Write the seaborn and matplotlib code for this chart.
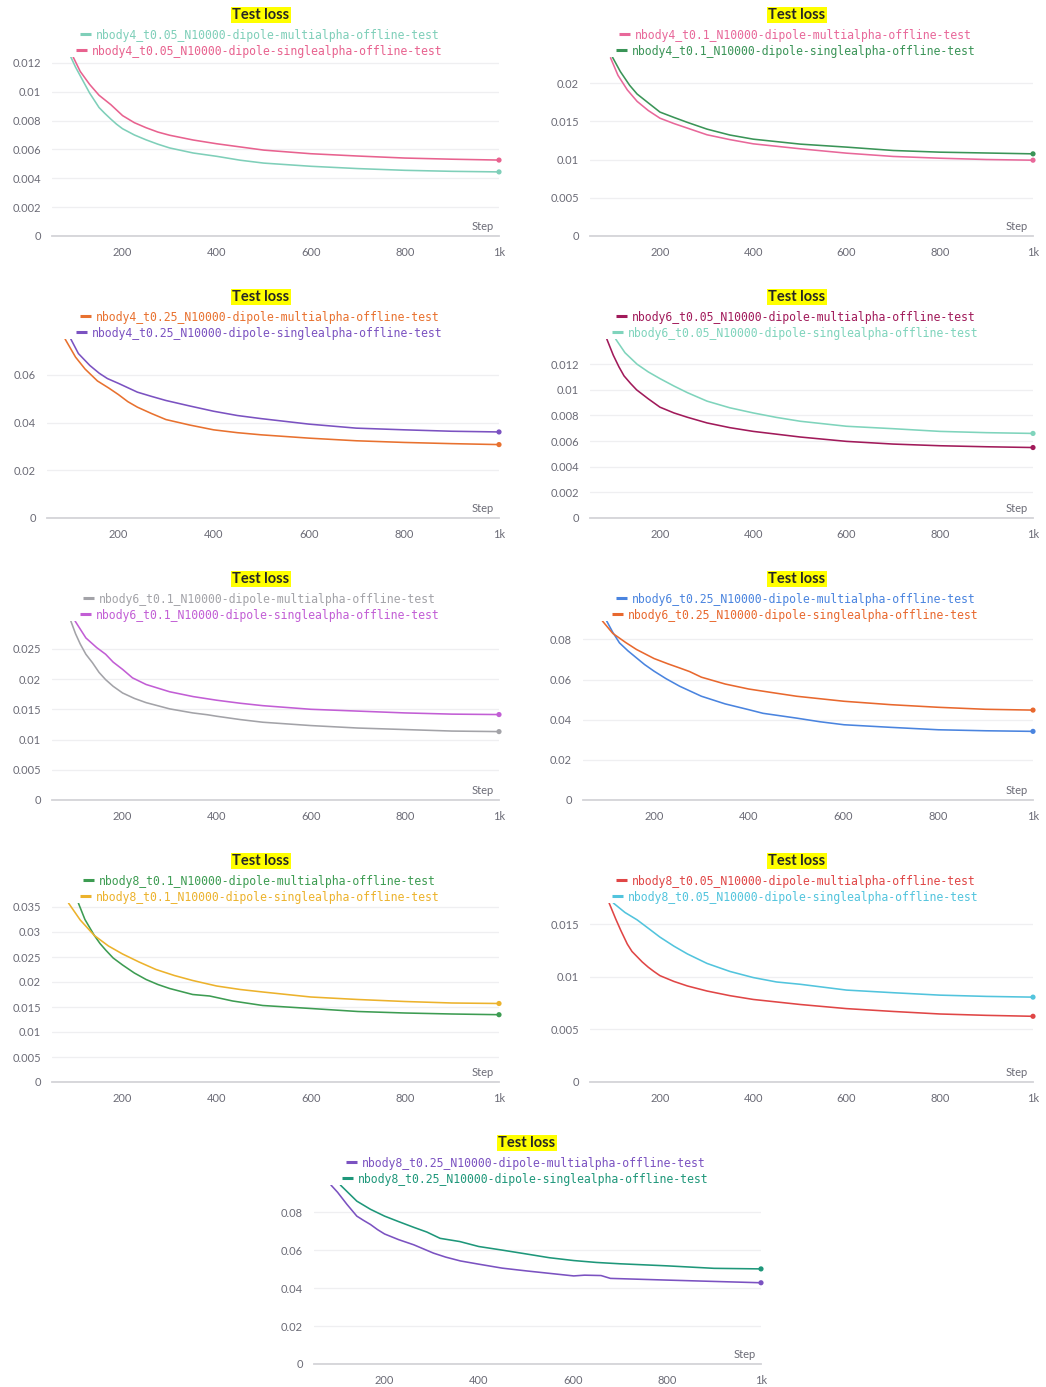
import matplotlib
matplotlib.use("Agg")
import matplotlib.pyplot as plt
import matplotlib.transforms as mtrans
import seaborn as sns

# ---------------- data ----------------
P1_LABELS = ["nbody4_t0.05_N10000-dipole-multialpha-offline-test",
             "nbody4_t0.05_N10000-dipole-singlealpha-offline-test"]
P1_MULTI_STEP = [90, 100, 115, 130, 140, 150, 162, 175, 187, 200, 225, 250, 275, 300, 350, 400, 450, 500, 600, 700, 800, 900, 1000]
P1_MULTI_LOSS = [0.0124, 0.0117, 0.0108, 0.0099, 0.0094, 0.0089, 0.0085, 0.0081, 0.00775, 0.00743, 0.00700,
                 0.00666, 0.00636, 0.0061, 0.00575, 0.00552, 0.00525, 0.00505, 0.00483, 0.00467, 0.00455, 0.00448, 0.00444]
P1_SINGLE_STEP = [95, 110, 130, 150, 175, 200, 225, 250, 275, 300, 350, 400, 500, 600, 700, 800, 900, 1000]
P1_SINGLE_LOSS = [0.0124, 0.0114, 0.0105, 0.00975, 0.0091, 0.00834, 0.00785, 0.0075, 0.0072, 0.00698, 0.00665, 0.00639,
                  0.00595, 0.0057, 0.00554, 0.0054, 0.00532, 0.00526]
P1_YTICKS = [0, 0.002, 0.004, 0.006, 0.008, 0.01, 0.012]
P1_YMAX = 0.0124

P2_LABELS = ["nbody4_t0.1_N10000-dipole-multialpha-offline-test",
             "nbody4_t0.1_N10000-dipole-singlealpha-offline-test"]
P2_MULTI_STEP = [94, 110, 130, 151, 175, 200, 230, 259, 301, 350, 400, 501, 600, 700, 800, 900, 1000]
P2_MULTI_LOSS = [0.0233, 0.0210, 0.0191, 0.0176, 0.0164, 0.0154, 0.0147, 0.0141, 0.01323, 0.0126, 0.01205,
                 0.0114, 0.01083, 0.0104, 0.01017, 0.0100, 0.00991]
P2_SINGLE_STEP = [98, 115, 135, 151, 175, 200, 230, 259, 301, 350, 400, 501, 600, 700, 800, 900, 1000]
P2_SINGLE_LOSS = [0.0234, 0.0215, 0.0197, 0.01856, 0.0174, 0.0162, 0.0155, 0.01485, 0.01397, 0.0132, 0.01266,
                  0.01201, 0.01162, 0.01118, 0.01096, 0.01085, 0.01074]
P2_YTICKS = [0, 0.005, 0.01, 0.015, 0.02]
P2_YMAX = 0.0234

P3_LABELS = ["nbody4_t0.25_N10000-dipole-multialpha-offline-test",
             "nbody4_t0.25_N10000-dipole-singlealpha-offline-test"]
P3_MULTI_STEP = [88, 110, 130, 156, 180, 200, 220, 240, 270, 300, 350, 400, 450, 500, 601, 700, 801, 900, 1000]
P3_MULTI_LOSS = [0.0751, 0.0675, 0.0625, 0.0575, 0.0545, 0.0518, 0.0488, 0.0465, 0.0438, 0.0413, 0.0390, 0.0370,
                 0.0358, 0.0349, 0.0335, 0.0324, 0.0317, 0.0312, 0.0308]
P3_SINGLE_STEP = [100, 116, 140, 160, 177, 200, 240, 270, 300, 350, 400, 450, 500, 600, 700, 800, 900, 1000]
P3_SINGLE_LOSS = [0.0751, 0.0690, 0.0640, 0.0607, 0.0585, 0.0565, 0.0528, 0.0510, 0.0493, 0.0470, 0.0448,
                  0.0430, 0.0417, 0.0394, 0.0377, 0.0370, 0.0364, 0.0361]
P3_YTICKS = [0, 0.02, 0.04, 0.06]
P3_YMAX = 0.0751

P4_LABELS = ["nbody6_t0.05_N10000-dipole-multialpha-offline-test",
             "nbody6_t0.05_N10000-dipole-singlealpha-offline-test"]
P4_MULTI_STEP = [86, 100, 112, 123, 137, 150, 175, 200, 230, 259, 301, 350, 400, 501, 600, 700, 800, 900, 1000]
P4_MULTI_LOSS = [0.01397, 0.0127, 0.0118, 0.01109, 0.0105, 0.0100, 0.0093, 0.00865, 0.0082, 0.00786, 0.00742,
                 0.00705, 0.00676, 0.00632, 0.00598, 0.00577, 0.00564, 0.00556, 0.0055]
P4_SINGLE_STEP = [105, 125, 151, 175, 200, 230, 259, 301, 350, 400, 450, 501, 600, 700, 800, 900, 1000]
P4_SINGLE_LOSS = [0.01397, 0.0129, 0.0120, 0.0114, 0.01088, 0.0103, 0.00978, 0.00912, 0.0086, 0.0082,
                  0.00785, 0.00755, 0.00716, 0.00697, 0.00676, 0.00666, 0.0066]
P4_YTICKS = [0, 0.002, 0.004, 0.006, 0.008, 0.01, 0.012]
P4_YMAX = 0.01397

P5_LABELS = ["nbody6_t0.1_N10000-dipole-multialpha-offline-test",
             "nbody6_t0.1_N10000-dipole-singlealpha-offline-test"]
P5_MULTI_STEP = [90, 100, 110, 122, 136, 150, 164, 180, 200, 225, 250, 300, 349, 380, 400, 450, 498, 600, 700, 800, 900, 1000]
P5_MULTI_LOSS = [0.0296, 0.0275, 0.0258, 0.0241, 0.0227, 0.0211, 0.0199, 0.0188, 0.0177, 0.0168, 0.0161, 0.01507,
                 0.0144, 0.0141, 0.01385, 0.0133, 0.01286, 0.01231, 0.0119, 0.01165, 0.0114, 0.01131]
P5_SINGLE_STEP = [99, 122, 145, 164, 180, 200, 221, 250, 300, 350, 400, 450, 498, 600, 700, 800, 900, 1000]
P5_SINGLE_LOSS = [0.0296, 0.0268, 0.0252, 0.0241, 0.0228, 0.0216, 0.0202, 0.0191, 0.0179, 0.0171, 0.0165,
                  0.0160, 0.0156, 0.0150, 0.0147, 0.0144, 0.0142, 0.01413]
P5_YTICKS = [0, 0.005, 0.01, 0.015, 0.02, 0.025]
P5_YMAX = 0.0296

P6_LABELS = ["nbody6_t0.25_N10000-dipole-multialpha-offline-test",
             "nbody6_t0.25_N10000-dipole-singlealpha-offline-test"]
P6_MULTI_STEP = [100, 113, 127, 145, 163, 180, 200, 225, 254, 300, 350, 400, 430, 501, 550, 601, 700, 800, 900, 1000]
P6_MULTI_LOSS = [0.0892, 0.0835, 0.0783, 0.0743, 0.0708, 0.0675, 0.0642, 0.0605, 0.0567, 0.0517, 0.0479, 0.0450,
                 0.0432, 0.0408, 0.0390, 0.0375, 0.0362, 0.0350, 0.0345, 0.0342]
P6_SINGLE_STEP = [91, 113, 140, 163, 200, 230, 254, 275, 300, 350, 400, 450, 501, 601, 700, 800, 900, 1000]
P6_SINGLE_LOSS = [0.0892, 0.0830, 0.0785, 0.0750, 0.0705, 0.0678, 0.0658, 0.0640, 0.0612, 0.0578, 0.0553,
                  0.0535, 0.0517, 0.0492, 0.0475, 0.0462, 0.0452, 0.0448]
P6_YTICKS = [0, 0.02, 0.04, 0.06, 0.08]
P6_YMAX = 0.0892

P7_LABELS = ["nbody8_t0.1_N10000-dipole-multialpha-offline-test",
             "nbody8_t0.1_N10000-dipole-singlealpha-offline-test"]
P7_MULTI_STEP = [106, 120, 140, 152, 164, 180, 200, 225, 250, 275, 300, 349, 385, 434, 498, 600, 700, 800, 900, 1000]
P7_MULTI_LOSS = [0.0358, 0.0325, 0.0293, 0.0277, 0.0264, 0.0248, 0.0234, 0.0218, 0.0205, 0.0195, 0.0187,
                 0.0175, 0.0172, 0.0162, 0.0153, 0.0147, 0.0141, 0.0138, 0.0136, 0.01346]
P7_SINGLE_STEP = [85, 110, 140, 170, 200, 235, 271, 310, 349, 400, 450, 498, 600, 700, 800, 900, 1000]
P7_SINGLE_LOSS = [0.0358, 0.0324, 0.0293, 0.0272, 0.0256, 0.0240, 0.0225, 0.0213, 0.0203, 0.0192,
                  0.0185, 0.0180, 0.0170, 0.0165, 0.0161, 0.0158, 0.0157]
P7_YTICKS = [0, 0.005, 0.01, 0.015, 0.02, 0.025, 0.03, 0.035]
P7_YMAX = 0.0358

P8_LABELS = ["nbody8_t0.05_N10000-dipole-multialpha-offline-test",
             "nbody8_t0.05_N10000-dipole-singlealpha-offline-test"]
P8_MULTI_STEP = [91, 105, 116, 130, 140, 151, 162, 175, 187, 200, 230, 259, 301, 350, 400, 501, 600, 700, 800, 900, 1000]
P8_MULTI_LOSS = [0.0170, 0.0155, 0.0144, 0.0131, 0.0124, 0.0119, 0.0114, 0.0109, 0.0105, 0.0101, 0.00955,
                 0.00912, 0.00864, 0.0082, 0.00784, 0.00736, 0.00697, 0.0067, 0.00646, 0.00633, 0.00624]
P8_SINGLE_STEP = [100, 125, 151, 175, 200, 230, 259, 301, 350, 400, 450, 501, 600, 700, 800, 900, 1000]
P8_SINGLE_LOSS = [0.0170, 0.0161, 0.0154, 0.0146, 0.01376, 0.0129, 0.01216, 0.01126, 0.0105, 0.00992,
                  0.0095, 0.00928, 0.00873, 0.00848, 0.00825, 0.00813, 0.00806]
P8_YTICKS = [0, 0.005, 0.01, 0.015]
P8_YMAX = 0.0170

P9_LABELS = ["nbody8_t0.25_N10000-dipole-multialpha-offline-test",
             "nbody8_t0.25_N10000-dipole-singlealpha-offline-test"]
P9_MULTI_STEP = [86, 100, 120, 141, 155, 170, 185, 200, 230, 262, 304, 330, 361, 400, 450, 503, 602, 625, 660, 680, 801, 900, 1000]
P9_MULTI_LOSS = [0.0943, 0.0905, 0.0841, 0.0779, 0.0757, 0.0735, 0.0708, 0.0685, 0.0655, 0.0628, 0.0584,
                 0.0563, 0.0543, 0.0526, 0.0505, 0.0490, 0.0464, 0.0468, 0.0466, 0.0451, 0.0442, 0.0435, 0.0428]
P9_SINGLE_STEP = [106, 141, 170, 200, 230, 262, 290, 318, 360, 400, 450, 503, 550, 602, 650, 700, 801, 900, 1000]
P9_SINGLE_LOSS = [0.0943, 0.0858, 0.0815, 0.0779, 0.0750, 0.0720, 0.0695, 0.0662, 0.0645, 0.0619, 0.0600,
                  0.0579, 0.0560, 0.0545, 0.0535, 0.0528, 0.0517, 0.0504, 0.0501]
P9_YTICKS = [0, 0.02, 0.04, 0.06, 0.08]
P9_YMAX = 0.0943

X_TICKS = [200, 400, 600, 800, 1000]
X_TICKLABELS = ["200", "400", "600", "800", "1k"]

# ---------------- style / layout ----------------
sns.set_theme(style="white")
plt.rcParams['font.family'] = ['Lato', 'DejaVu Sans']

W, H = 1046, 1387
fig = plt.figure(figsize=(W / 100, H / 100), dpi=100)

TICK_COLOR = "#6b6b76"
AXIS_COLOR = "#d4d4d8"
GRID_COLOR = "#efeff1"

# (row offset px, axes left px, axes right px, title centre px, ...)
panels = [
    (0,    52, 499,  261, P1_LABELS, P1_MULTI_STEP, P1_MULTI_LOSS, P1_SINGLE_STEP, P1_SINGLE_LOSS, P1_YTICKS, P1_YMAX, ("#7fcfb9", "#e8628f")),
    (0,   590, 1033, 797, P2_LABELS, P2_MULTI_STEP, P2_MULTI_LOSS, P2_SINGLE_STEP, P2_SINGLE_LOSS, P2_YTICKS, P2_YMAX, ("#e8689a", "#3a9457")),
    (282,  47, 499,  261, P3_LABELS, P3_MULTI_STEP, P3_MULTI_LOSS, P3_SINGLE_STEP, P3_SINGLE_LOSS, P3_YTICKS, P3_YMAX, ("#e8712f", "#7b52c1")),
    (282, 590, 1033, 797, P4_LABELS, P4_MULTI_STEP, P4_MULTI_LOSS, P4_SINGLE_STEP, P4_SINGLE_LOSS, P4_YTICKS, P4_YMAX, ("#a11a5a", "#7fd4bc")),
    (564,  52, 499,  261, P5_LABELS, P5_MULTI_STEP, P5_MULTI_LOSS, P5_SINGLE_STEP, P5_SINGLE_LOSS, P5_YTICKS, P5_YMAX, ("#a3a3a8", "#c25ed5")),
    (564, 583, 1033, 797, P6_LABELS, P6_MULTI_STEP, P6_MULTI_LOSS, P6_SINGLE_STEP, P6_SINGLE_LOSS, P6_YTICKS, P6_YMAX, ("#4a84df", "#e8682e")),
    (846,  52, 499,  261, P7_LABELS, P7_MULTI_STEP, P7_MULTI_LOSS, P7_SINGLE_STEP, P7_SINGLE_LOSS, P7_YTICKS, P7_YMAX, ("#3d9c52", "#ecb22c")),
    (846, 590, 1033, 797, P8_LABELS, P8_MULTI_STEP, P8_MULTI_LOSS, P8_SINGLE_STEP, P8_SINGLE_LOSS, P8_YTICKS, P8_YMAX, ("#e04646", "#52c4dd")),
    (1128, 314, 761, 527, P9_LABELS, P9_MULTI_STEP, P9_MULTI_LOSS, P9_SINGLE_STEP, P9_SINGLE_LOSS, P9_YTICKS, P9_YMAX, ("#7b52c1", "#1e977a")),
]

LEG_FS = 8.3
CHAR_PX = 0.602 * LEG_FS * 100 / 72


def fmt(v):
    return "0" if v == 0 else f"{v:g}"


for (roff, left, right, cx, labels, ms, ml, ss, sl, yt, ymax, cols) in panels:
    top_px = roff + 57
    bot_px = roff + 236
    ax = fig.add_axes([left / W, 1 - bot_px / H, (right - left) / W, (bot_px - top_px) / H])

    for st, lo, c in ((ms, ml, cols[0]), (ss, sl, cols[1])):
        sns.lineplot(x=st, y=lo, ax=ax, color=c, lw=1.15, legend=False)
        sns.scatterplot(x=[st[-1]], y=[lo[-1]], ax=ax, color=c, s=14,
                        edgecolor="none", legend=False, clip_on=False, zorder=5)

    ax.set_xlim(50, 1000)
    ax.set_ylim(0, ymax)
    ax.set_xlabel("")
    ax.set_ylabel("")
    for s in ("left", "right", "top"):
        ax.spines[s].set_visible(False)
    ax.spines["bottom"].set_color(AXIS_COLOR)
    ax.spines["bottom"].set_linewidth(1.3)
    ax.set_xticks(X_TICKS)
    ax.set_xticklabels(X_TICKLABELS)
    ax.set_yticks(yt)
    ax.set_yticklabels([fmt(v) for v in yt])
    ax.yaxis.grid(True, color=GRID_COLOR, lw=0.9)
    ax.xaxis.grid(False)
    ax.set_axisbelow(True)
    ax.tick_params(axis="x", direction="inout", length=6, width=1, color=AXIS_COLOR,
                   labelcolor=TICK_COLOR, labelsize=8, pad=5)
    ax.tick_params(axis="y", length=0, labelcolor=TICK_COLOR, labelsize=8, pad=8)

    off = mtrans.offset_copy(ax.transAxes, fig=fig, x=-5, y=9, units="dots")
    ax.text(1, 0, "Step", transform=off, ha="right", va="center",
            fontsize=8, color=TICK_COLOR)

    # title with highlighter background
    fig.text(cx / W, 1 - (roff + 15) / H, "Test loss", ha="center", va="center",
             fontsize=10.5, fontweight="bold", color="#262626",
             bbox=dict(facecolor="#ffff00", edgecolor="none", boxstyle="square,pad=0.08"))

    # legend entries (each centred)
    for i, (lab, c) in enumerate(zip(labels, cols)):
        yc = roff + 35 + 16 * i
        tw = len(lab) * CHAR_PX
        total = 11 + 5 + tw
        x0 = cx - total / 2
        fig.add_artist(plt.Line2D([x0 / W, (x0 + 11) / W], [1 - (yc - 1.5) / H, 1 - (yc - 1.5) / H],
                                  color=c, lw=2.2, solid_capstyle="butt"))
        fig.text((x0 + 16) / W, 1 - yc / H, lab, ha="left", va="center",
                 fontsize=LEG_FS, color=c, family=["DejaVu Sans Mono"])

fig.savefig("out.png", dpi=100)
